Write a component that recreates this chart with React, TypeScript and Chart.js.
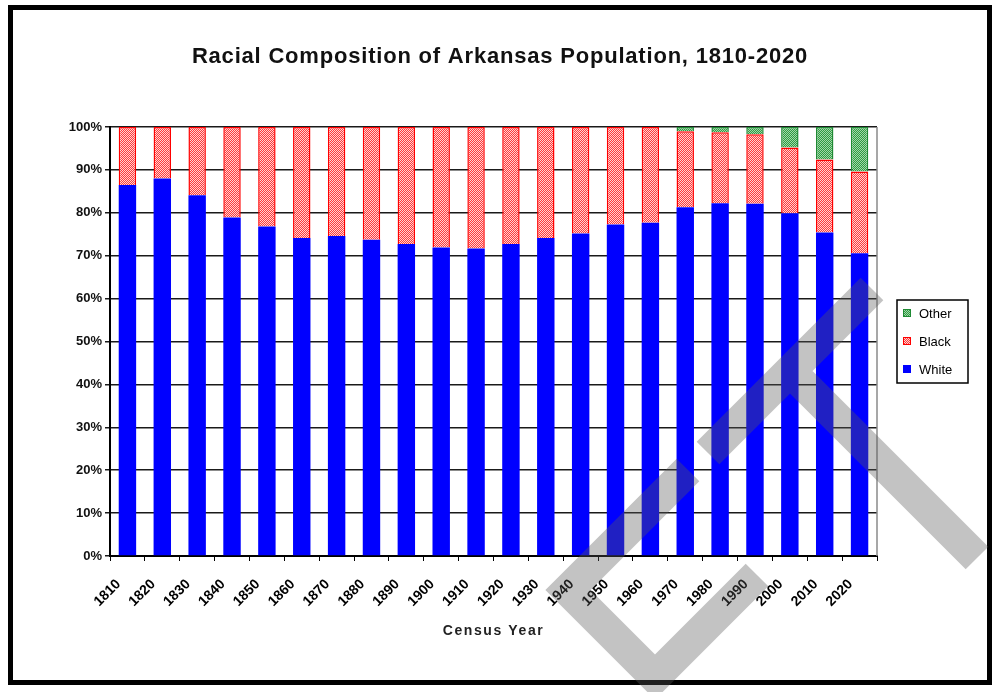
import React, { useEffect, useRef } from "react";
import { Chart, registerables } from "chart.js";

Chart.register(...registerables);

// Census years on the x axis
const YEARS = [
  "1810", "1820", "1830", "1840", "1850", "1860", "1870", "1880", "1890", "1900", "1910",
  "1920", "1930", "1940", "1950", "1960", "1970", "1980", "1990", "2000", "2010", "2020",
];

// Share of the population (%) per census
const WHITE = [
  86.5, 88.0, 84.1, 78.9, 76.8, 74.1, 74.6, 73.7, 72.7, 71.9, 71.7,
  72.7, 74.1, 75.2, 77.3, 77.7, 81.3, 82.2, 82.1, 79.9, 75.4, 70.6,
];
const BLACK = [
  13.5, 12.0, 15.9, 21.1, 23.2, 25.9, 25.4, 26.3, 27.3, 28.1, 28.3,
  27.3, 25.9, 24.8, 22.7, 22.3, 17.7, 16.6, 16.2, 15.3, 17.0, 19.0,
];
const OTHER = [
  0, 0, 0, 0, 0, 0, 0, 0, 0, 0, 0,
  0, 0, 0, 0, 0, 1.0, 1.2, 1.7, 4.8, 7.6, 10.4,
];

const TITLE = "Racial Composition of Arkansas Population, 1810-2020";
const X_TITLE = "Census Year";
const FONT = "'Liberation Sans', Arial, sans-serif";

function dotPattern(fg: string, bg: string): CanvasPattern | string {
  const c = document.createElement("canvas");
  c.width = 2;
  c.height = 2;
  const g = c.getContext("2d");
  if (!g) return fg;
  g.fillStyle = fg;
  g.fillRect(0, 0, 2, 2);
  g.fillStyle = bg;
  g.fillRect(0, 0, 1, 1);
  g.fillRect(1, 1, 1, 1);
  const p = g.createPattern(c, "repeat");
  return p || fg;
}

function spacedText(ctx: any, text: string, x: number, y: number, font: string, spacing: number, color: string) {
  ctx.save();
  ctx.font = font;
  ctx.fillStyle = color;
  ctx.textBaseline = "alphabetic";
  ctx.textAlign = "left";
  if ("letterSpacing" in ctx) ctx.letterSpacing = `${spacing}px`;
  const w = ctx.measureText(text).width;
  ctx.fillText(text, x - w / 2, y);
  ctx.restore();
}

// Outer frame, titles, plot border, boxed legend and the grey diagonal stamp
const decorPlugin = {
  id: "decor",
  beforeDraw(chart: any) {
    const { ctx, width, height } = chart;
    ctx.save();
    ctx.fillStyle = "#ffffff";
    ctx.fillRect(0, 0, width, height);
    ctx.restore();
  },
  afterDatasetsDraw(chart: any) {
    const { ctx, chartArea } = chart;
    ctx.save();
    ctx.strokeStyle = "#8a8a8a";
    ctx.lineWidth = 1.5;
    ctx.beginPath();
    ctx.moveTo(chartArea.right, chartArea.top);
    ctx.lineTo(chartArea.right, chartArea.bottom);
    ctx.stroke();
    ctx.restore();
  },
  afterDraw(chart: any) {
    const { ctx, chartArea } = chart;
    ctx.save();
    // frame
    ctx.strokeStyle = "#000000";
    ctx.lineWidth = 5;
    ctx.strokeRect(10.5, 7.5, 979, 675);

    // titles
    spacedText(ctx, TITLE, 500, 63, `bold 22px ${FONT}`, 0.8, "#111111");
    spacedText(ctx, X_TITLE, (chartArea.left + chartArea.right) / 2, 635, `bold 14px ${FONT}`, 1.6, "#222222");

    // legend box
    const lx = 897;
    const ly = 300;
    ctx.strokeStyle = "#000000";
    ctx.lineWidth = 1.5;
    ctx.strokeRect(lx, ly, 71, 83);
    const items = [...chart.data.datasets].reverse();
    items.forEach((ds: any, i: number) => {
      const cy = 313 + i * 28;
      ctx.fillStyle = ds.backgroundColor;
      ctx.fillRect(lx + 6, cy - 4, 8, 8);
      ctx.strokeStyle = ds.borderColor;
      ctx.lineWidth = 1;
      ctx.strokeRect(lx + 6.5, cy - 3.5, 7, 7);
      ctx.fillStyle = "#000000";
      ctx.font = `13px ${FONT}`;
      ctx.textBaseline = "middle";
      ctx.textAlign = "left";
      ctx.fillText(ds.label, lx + 22, cy + 1);
    });

    // stamp
    ctx.strokeStyle = "rgba(90,90,90,0.36)";
    ctx.lineWidth = 32;
    ctx.lineCap = "butt";
    ctx.lineJoin = "miter";
    ctx.beginPath();
    ctx.moveTo(872, 289);
    ctx.lineTo(708, 453);
    ctx.moveTo(790, 371);
    ctx.lineTo(977, 558);
    ctx.moveTo(688, 470);
    ctx.lineTo(568, 590);
    ctx.lineTo(655, 677);
    ctx.lineTo(757, 575);
    ctx.stroke();
    ctx.restore();
  },
};

export default function App() {
  const ref = useRef<HTMLCanvasElement | null>(null);

  useEffect(() => {
    if (!ref.current) return;
    const redDots = dotPattern("#ff3a3a", "#ffd2d2");
    const greenDots = dotPattern("#2f9a42", "#a0d8a8");

    const chart = new Chart(ref.current, {
      type: "bar",
      data: {
        labels: YEARS,
        datasets: [
          {
            label: "White",
            data: WHITE,
            backgroundColor: "#0000ff",
            borderColor: "#0000ff",
            borderWidth: 0,
          },
          {
            label: "Black",
            data: BLACK,
            backgroundColor: redDots as any,
            borderColor: "#ff0000",
            borderWidth: 1.5,
          },
          {
            label: "Other",
            data: OTHER,
            backgroundColor: greenDots as any,
            borderColor: "#1f8a34",
            borderWidth: 1.5,
          },
        ],
      },
      options: {
        responsive: false,
        animation: false,
        devicePixelRatio: 1,
        layout: { padding: { left: 0, right: 120, top: 127, bottom: 0 } },
        datasets: {
          bar: { barPercentage: 0.5, categoryPercentage: 1 },
        },
        plugins: {
          legend: { display: false },
          tooltip: { enabled: false },
          title: { display: false },
        },
        scales: {
          x: {
            stacked: true,
            grid: {
              display: true,
              offset: true,
              drawOnChartArea: false,
              drawTicks: true,
              tickLength: 5,
              color: "#000000",
            },
            border: { display: true, color: "#000000", width: 2 },
            ticks: {
              color: "#000000",
              font: { family: FONT, size: 14, weight: "bold" },
              maxRotation: 45,
              minRotation: 45,
              autoSkip: false,
              padding: 15,
              labelOffset: -9,
            },
            afterFit: (s: any) => {
              s.height = 136;
            },
          },
          y: {
            stacked: true,
            min: 0,
            max: 100,
            grid: {
              color: "#1a1a1a",
              lineWidth: 1.5,
              tickLength: 5,
            },
            border: { display: true, color: "#000000", width: 2 },
            ticks: {
              stepSize: 10,
              color: "#111111",
              font: { family: FONT, size: 13, weight: "bold" },
              padding: 3,
              callback: (v: any) => `${v}%`,
            },
            afterFit: (s: any) => {
              s.width = 110;
            },
          },
        },
      },
      plugins: [decorPlugin],
    });
    return () => chart.destroy();
  }, []);

  return (
    <div style={{ position: "absolute", left: 0, top: 0, width: 997, height: 692 }}>
      <canvas ref={ref} width={997} height={692} style={{ display: "block" }} />
    </div>
  );
}
